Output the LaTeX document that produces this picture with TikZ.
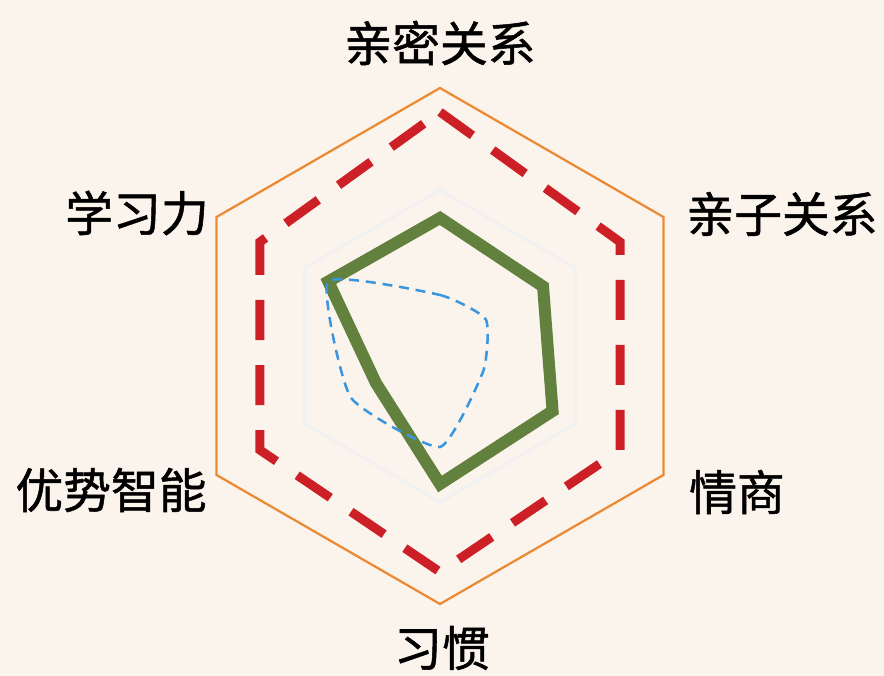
\documentclass[tikz,border=0pt]{standalone}
\usepackage{fontspec}
\newfontfamily\cjk[FakeBold=1.1]{Noto Sans CJK SC}
\usepackage{tikz}
\usetikzlibrary{positioning}

\definecolor{bgcream}{RGB}{251,244,236}
\definecolor{frameorange}{RGB}{236,138,52}
\definecolor{targetred}{RGB}{204,32,38}
\definecolor{scoregreen}{RGB}{98,128,62}
\definecolor{baseblue}{RGB}{58,150,222}
\definecolor{gridgray}{RGB}{242,241,241}

\begin{document}
\begin{tikzpicture}[
    x=0.025cm, y=0.025cm,
    axislabel/.style={font=\cjk\fontsize{34}{40}\selectfont, inner sep=0pt},
    gridline/.style={draw=gridgray, line width=2.4pt},
    outerframe/.style={draw=frameorange, line width=1.6pt},
    targetline/.style={draw=targetred, line width=6.4pt, dash pattern=on 1cm off 0.625cm},
    scoreline/.style={draw=scoregreen, line width=8.5pt, line join=miter},
    baseline/.style={draw=baseblue, line width=1.8pt, dash pattern=on 0.25cm off 0.17cm}
]

% Background and page size
\fill[bgcream] (-440,-330) rectangle (444,346);
\useasboundingbox (-440,-330) rectangle (444,346);

% Faint grid
\draw[gridline] (90:156) -- (30:156) -- (-30:156) -- (-90:156) -- (-150:156) -- (150:156) -- cycle;

% Outer frame
\draw[outerframe] (90:258) -- (30:258) -- (-30:258) -- (-90:258) -- (-150:258) -- (150:258) -- cycle;

% Target (red dashed)
\draw[targetline] (90:234) -- (30:208) -- (-30:208) -- (-90:226) -- (-150:208) -- (150:208) -- cycle;

% Current score (green)
\draw[scoreline] (90:128) -- (30:119) -- (-30:130) -- (-90:138) -- (-150:74) -- (150:129) -- cycle;

% Baseline (blue dashed)
\draw[baseline] plot[smooth cycle, tension=0.3] coordinates {(150:129) (90:51) (30:53) (-30:50) (-90:101) (-150:103)};

% Axis labels
\node[axislabel] (intimacy) at (0,303) {亲密关系};
\node[axislabel] (parent) at (342,132) {亲子关系};
\node[axislabel] (eq) at (297,-146) {情商};
\node[axislabel] (habit) at (2,-302) {习惯};
\node[axislabel] (talent) at (-329,-144) {优势智能};
\node[axislabel] (learning) at (-303,133) {学习力};

\end{tikzpicture}
\end{document}
